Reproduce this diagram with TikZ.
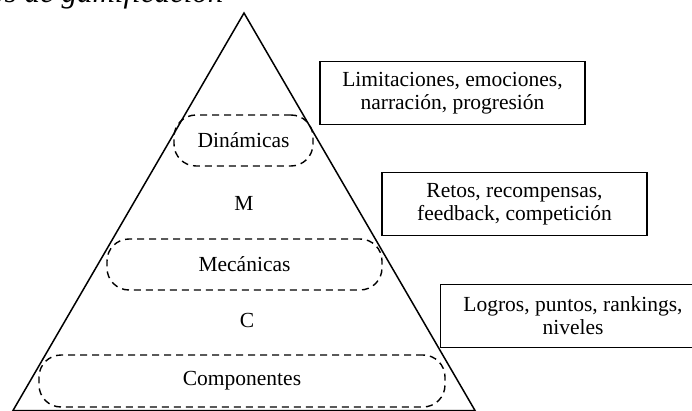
\documentclass[tikz,border=0pt]{standalone}
\usepackage{fontspec}
\setmainfont{Liberation Serif}[ItalicFont=Liberation Serif Italic]
\begin{document}
\begin{tikzpicture}[x=1pt,y=-1pt,font=\fontsize{21.5}{23}\selectfont]
    \tikzset{
      layer/.style={draw,dash pattern=on 7pt off 5pt,line width=1.4pt,rounded corners=22pt,inner sep=0pt},
      infobox/.style={draw,line width=1.5pt,align=center,inner sep=0pt,minimum width=265pt,minimum height=63pt},
    }
    \useasboundingbox (0,0) rectangle (692,411);
    \clip (0,0) rectangle (692,411);

    % --- Title (cut off at the top) ---
    \node[anchor=base west,inner sep=0pt,font=\fontsize{31}{33}\selectfont\itshape] (title) at (-11,3) {os de gamificación};

    % --- Pyramid ---
    \draw[line width=1.5pt] (13,410.5) coordinate (baseL) -- (244,13) coordinate (apex)
      -- (475,410.5) coordinate (baseR) -- cycle;

    % --- Layers ---
    \node[layer,minimum width=139pt,minimum height=51pt] (din) at (243.5,140.5) {Dinámicas};
    \node (m) at (244,203) {M};
    \node[layer,minimum width=275pt,minimum height=51pt] (mec) at (244.5,264.5) {Mecánicas};
    \node (c) at (247,320) {C};
    \node[layer,minimum width=406pt,minimum height=52pt] (comp) at (242,381) {Componentes};

    % --- Examples on the right ---
    \node[infobox] (dinbox) at (452.5,93) {Limitaciones, emociones,\\narración, progresión};
    \node[infobox] (mecbox) at (514.5,204) {Retos, recompensas,\\feedback, competición};
    \node[infobox] (compbox) at (573,316) {Logros, puntos, rankings,\\niveles};

\end{tikzpicture}
\end{document}
